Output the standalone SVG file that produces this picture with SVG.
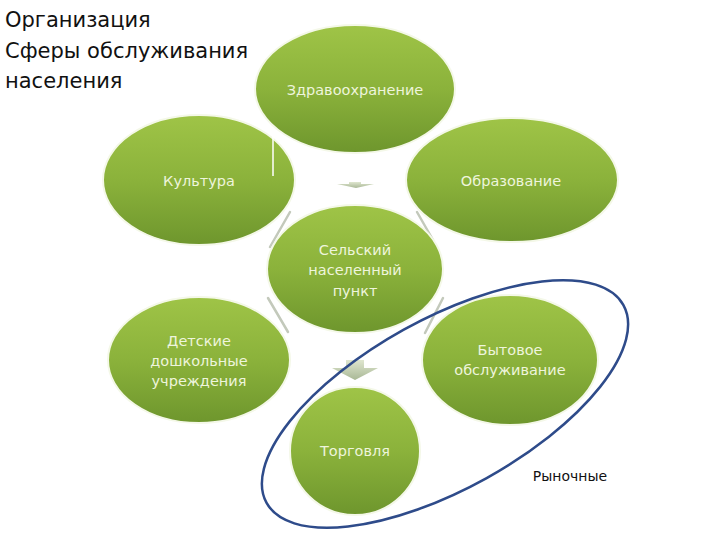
<svg xmlns="http://www.w3.org/2000/svg" width="720" height="540" viewBox="0 0 720 540">
<defs>
<linearGradient id="g" x1="0" y1="0" x2="0" y2="1">
<stop offset="0" stop-color="#9fc447"/>
<stop offset="0.5" stop-color="#8bb23b"/>
<stop offset="1" stop-color="#6e962d"/>
</linearGradient>
<linearGradient id="ag" x1="0" y1="0" x2="0" y2="1">
<stop offset="0" stop-color="#dfe6cf"/>
<stop offset="1" stop-color="#a9b896"/>
</linearGradient>
</defs>
<style>
.n{fill:url(#g);stroke:#f4f8e8;stroke-width:2}
.t{font-family:"DejaVu Sans","Liberation Sans",sans-serif;font-size:14.5px;fill:#eef5dc;text-anchor:middle}
.h{font-family:"DejaVu Sans","Liberation Sans",sans-serif;font-size:21px;fill:#111}
.c{stroke:#c3c9bb;stroke-width:2.5;fill:none;stroke-linecap:round}
</style>
<rect width="720" height="540" fill="#ffffff"/>
<g id="title">
<text class="h" x="5" y="27">Организация</text>
<text class="h" x="5" y="58">Сферы обслуживания</text>
<text class="h" x="5" y="88">населения</text>
</g>
<g id="connectors">
<polygon points="337,184 349,184 349,182 361,182 361,184 374,184 356,188" fill="url(#ag)"/>
<line class="c" x1="290" y1="212" x2="270" y2="247"/>
<line class="c" x1="268" y1="298" x2="288" y2="332"/>
<line class="c" x1="417" y1="212" x2="433" y2="240"/>
<line class="c" x1="443" y1="298" x2="425" y2="333"/>
<polygon points="346,360 364,360 364,368 378,368 355,380 332,368 346,368" fill="url(#ag)"/>
</g>
<g id="n-zdrav"><ellipse class="n" cx="355" cy="89" rx="100" ry="64"/><text class="t" x="355" y="95">Здравоохранение</text></g>
<g id="n-kultura"><ellipse class="n" cx="199" cy="180" rx="96" ry="65"/><line x1="273" y1="130" x2="273" y2="176" stroke="#ffffff" stroke-width="1.5"/><text class="t" x="199" y="186">Культура</text></g>
<g id="n-obraz"><ellipse class="n" cx="512" cy="180" rx="106" ry="62"/><text class="t" x="511" y="186">Образование</text></g>
<g id="n-selsky"><ellipse class="n" cx="355" cy="269" rx="88" ry="64"/><text class="t" x="355" y="255">Сельский</text><text class="t" x="355" y="275">населенный</text><text class="t" x="355" y="296">пункт</text></g>
<g id="n-detskie"><ellipse class="n" cx="199" cy="360" rx="91" ry="63"/><text class="t" x="199" y="346">Детские</text><text class="t" x="199" y="366">дошкольные</text><text class="t" x="199" y="386">учреждения</text></g>
<g id="n-bytovoe"><ellipse class="n" cx="510" cy="360" rx="88" ry="65"/><text class="t" x="510" y="355">Бытовое</text><text class="t" x="510" y="375">обслуживание</text></g>
<g id="n-torgovlya"><ellipse class="n" cx="355" cy="451" rx="65" ry="64"/><text class="t" x="355" y="456">Торговля</text></g>
<g id="group-market">
<ellipse cx="445" cy="404" rx="204" ry="85" transform="rotate(-29 445 404)" fill="none" stroke="#2e4b8a" stroke-width="2.5"/>
<text x="570" y="481" font-family="DejaVu Sans, Liberation Sans, sans-serif" font-size="14px" fill="#111" text-anchor="middle">Рыночные</text>
</g>
</svg>
